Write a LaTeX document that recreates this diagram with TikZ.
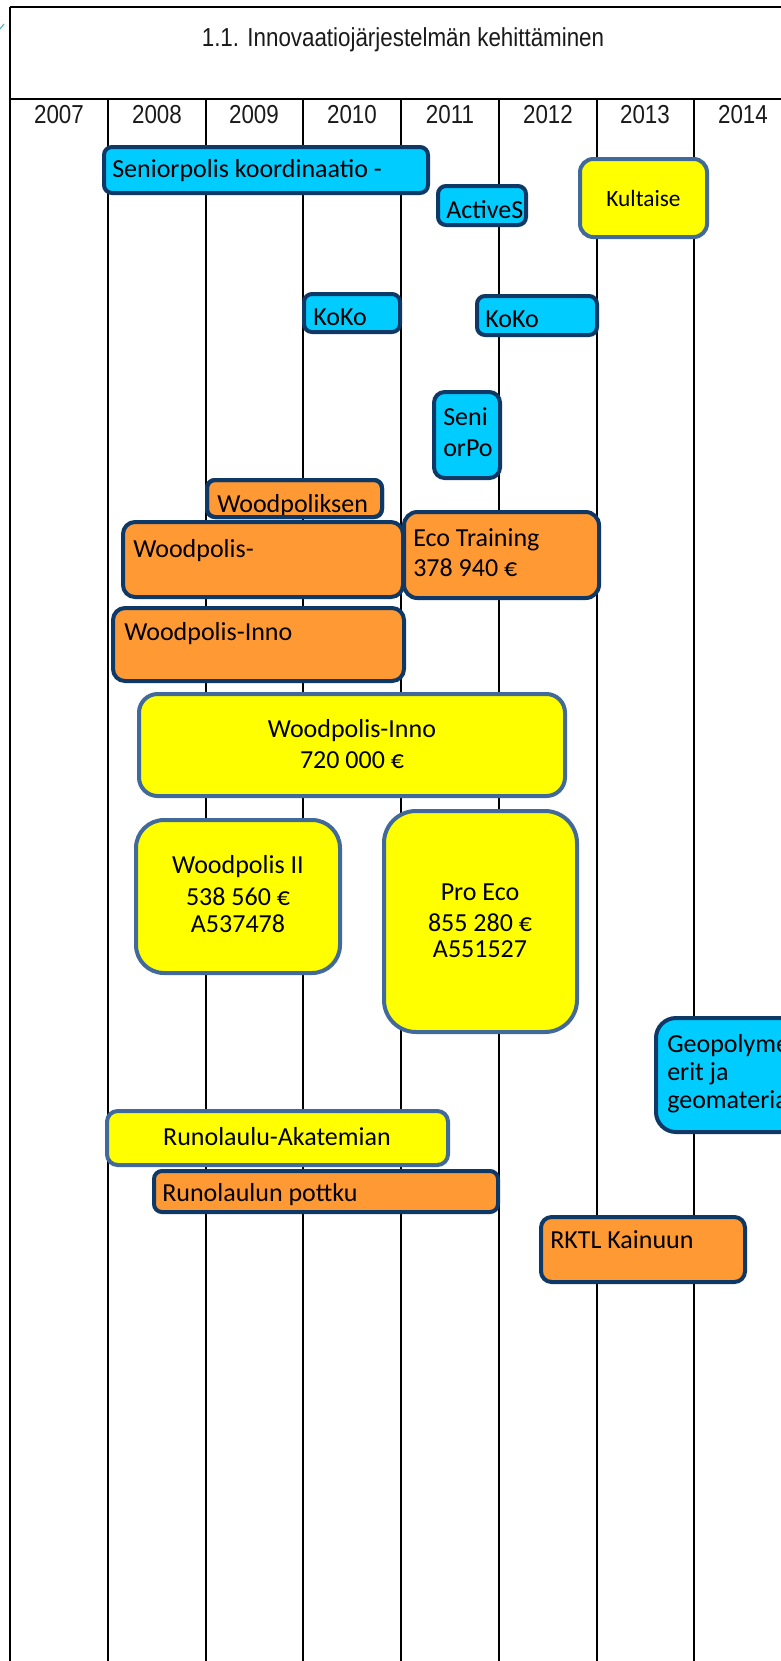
\documentclass[tikz,border=0pt]{standalone}
\usepackage{fontspec}
\setmainfont{Carlito}
\newfontfamily\titlefont[FakeStretch=0.86]{Liberation Sans}
\usetikzlibrary{fit}
\definecolor{cyanbox}{HTML}{00CCFF}
\definecolor{orangebox}{HTML}{FF9933}
\definecolor{yellowbox}{HTML}{FFFF00}
\definecolor{navyline}{HTML}{0E3866}
\definecolor{steelline}{HTML}{41699A}
\definecolor{titlegray}{HTML}{1A1A1A}
\definecolor{tealmark}{HTML}{5FB7C0}
\tikzset{
  gridline/.style={line width=1.2pt, black},
  boxbase/.style={inner sep=0pt, outer sep=0pt, line width=3pt},
  cbox/.style={boxbase, fill=cyanbox, draw=navyline},
  obox/.style={boxbase, fill=orangebox, draw=navyline},
  ybox/.style={boxbase, fill=yellowbox, draw=steelline},
  btxt/.style={inner sep=0pt, text=black, font=\fontsize{19.5}{23.25}\selectfont},
  titletxt/.style={inner sep=0pt, text=titlegray, font=\titlefont\fontsize{19.5}{23}\selectfont},
}
\begin{document}
\begin{tikzpicture}[x=0.75pt,y=-0.75pt]
\useasboundingbox (0,0) rectangle (781,1661);
\clip (0,0) rectangle (781,1661);
\fill[white] (0,0) rectangle (781,1661);

% grid
\draw[gridline] (10,7) -- (781,7);
\draw[gridline] (10,99) -- (781,99);
\draw[gridline] (10,7) -- (10,1661);
\foreach \gx in {108,206,303,401,499,597,694} \draw[gridline] (\gx,99) -- (\gx,1661);
\draw[tealmark, line width=0.9pt] (0,29) -- (4,24);

% title and years
\node[titletxt] (title) at (403,40) {1.1. Innovaatiojärjestelmän kehittäminen};
\foreach \yr/\yx in {2007/59,2008/157,2009/254,2010/352,2011/450,2012/548,2013/645,2014/743}
  \node[titletxt, anchor=base] (y\yr) at (\yx,123) {\yr};

% boxes
\node[cbox, rounded corners=6pt, fit={(104,147) (428,193)}] (sen) {};
\node[btxt, anchor=base west] (sent) at (112,177) {Seniorpolis koordinaatio -};

\node[cbox, rounded corners=6pt, fit={(438,186) (526,225)}] (act) {};
\node[btxt, anchor=base west] (actt) at (446,218) {ActiveS};

\node[ybox, rounded corners=10pt, fit={(580,159) (707,237)}] (kul) {};
\node[btxt, font=\fontsize{17.5}{21}\selectfont] (kult) at (kul.center) {Kultaise};

\node[cbox, rounded corners=6pt, fit={(304,294) (400,332)}] (ko1) {};
\node[btxt, anchor=base west] (ko1t) at (313,325) {KoKo};

\node[cbox, rounded corners=6pt, fit={(477,296) (597,335)}] (ko2) {};
\node[btxt, anchor=base west] (ko2t) at (485,327) {KoKo};

\node[cbox, rounded corners=8pt, fit={(434,392) (500,478)}] (spo) {};
\node[btxt, anchor=base west] (spot1) at (443,425) {Seni};
\node[btxt, anchor=base west] (spot2) at (443,456) {orPo};

\node[obox, rounded corners=6pt, fit={(207,480) (382,517)}] (wpk) {};
\begin{scope}
  \clip[rounded corners=6pt] (207,480) rectangle (382,517);
  \node[btxt, anchor=base west] (wpkt) at (217,512) {Woodpoliksen};
\end{scope}
\draw[navyline, line width=3pt, rounded corners=6pt] (207,480) rectangle (382,517);

\node[obox, rounded corners=9pt, fit={(123,522) (403,597)}] (wpd) {};
\node[btxt, anchor=base west] (wpdt) at (133,557) {Woodpolis-};

\node[obox, rounded corners=10pt, fit={(404,512) (599,598)}] (eco) {};
\node[btxt, anchor=base west] (ecot1) at (413,546) {Eco Training};
\node[btxt, anchor=base west] (ecot2) at (413,576) {378 940 €};

\node[obox, rounded corners=9pt, fit={(113,608) (404,681)}] (wio) {};
\node[btxt, anchor=base west] (wiot) at (124,640) {Woodpolis-Inno};

\node[ybox, rounded corners=14pt, fit={(139,694) (565,796)}] (wiy) {};
\node[btxt, anchor=base] (wiyt1) at (352,737) {Woodpolis-Inno};
\node[btxt, anchor=base] (wiyt2) at (352,768) {720 000 €};

\node[ybox, rounded corners=21pt, fit={(136,820) (340,973)}] (wp2) {};
\node[btxt, anchor=base] (wp2t1) at (238,873) {Woodpolis II};
\node[btxt, anchor=base] (wp2t2) at (238,905) {538 560 €};
\node[btxt, anchor=base] (wp2t3) at (238,932) {A537478};

\node[ybox, rounded corners=24pt, fit={(384,811) (577,1032)}] (pro) {};
\node[btxt, anchor=base] (prot1) at (480,900) {Pro Eco};
\node[btxt, anchor=base] (prot2) at (480,931) {855 280 €};
\node[btxt, anchor=base] (prot3) at (480,957) {A551527};

\node[cbox, rounded corners=15pt, fit={(656,1018) (800,1132)}] (geo) {};
\node[btxt, anchor=base west] (geot1) at (667,1052) {Geopolyme};
\node[btxt, anchor=base west] (geot2) at (667,1080) {erit ja};
\node[btxt, anchor=base west] (geot3) at (667,1108) {geomateriaa};

\node[ybox, rounded corners=8pt, fit={(107,1111) (448,1165)}] (rua) {};
\node[btxt, anchor=base] (ruat) at (277,1145) {Runolaulu-Akatemian};

\node[obox, rounded corners=6pt, fit={(154,1171) (498,1212)}] (rup) {};
\node[btxt, anchor=base west] (rupt) at (162,1201) {Runolaulun pottku};

\node[obox, rounded corners=8pt, fit={(541,1217) (745,1282)}] (rktl) {};
\node[btxt, anchor=base west] (rktlt) at (550,1248) {RKTL Kainuun};
\end{tikzpicture}
\end{document}
